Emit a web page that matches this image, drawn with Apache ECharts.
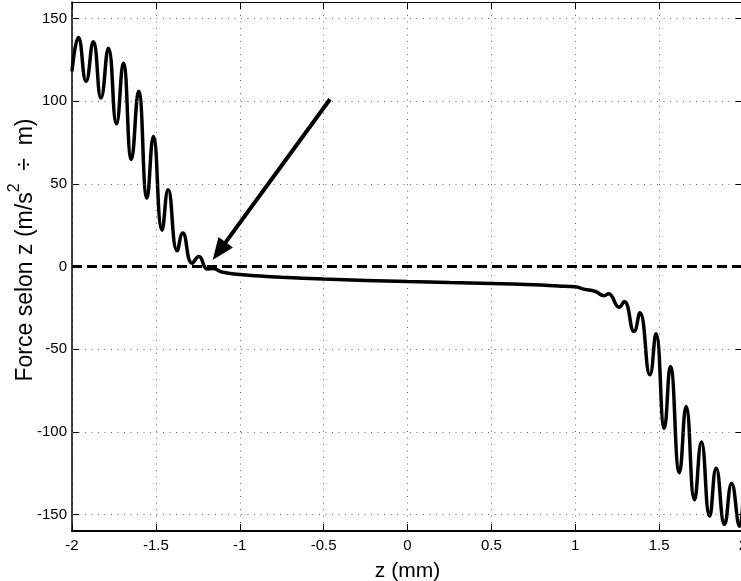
<!DOCTYPE html>
<html>
<head>
<meta charset="utf-8">
<script src="https://cdn.jsdelivr.net/npm/echarts@6/dist/echarts.min.js"></script>
<style>
html,body{margin:0;padding:0;background:#fff;}
#chart{width:741px;height:581px;}
</style>
</head>
<body>
<div id="chart"></div>
<script>
// z position (mm)
const zValues = [-2.000, -1.962, -1.916, -1.873, -1.827, -1.783, -1.735, -1.694, -1.646, -1.603,
  -1.553, -1.515, -1.463, -1.427, -1.373, -1.340, -1.284, -1.244, -1.194, -1.164,
  -1.100, -1.000, -0.900, -0.750, -0.500, -0.250, 0.000, 0.250, 0.500, 0.750,
  0.900, 1.000, 1.050, 1.120, 1.172, 1.198, 1.262, 1.292, 1.351, 1.385,
  1.445, 1.481, 1.531, 1.567, 1.621, 1.661, 1.711, 1.752, 1.801, 1.840,
  1.890, 1.932, 1.980, 2.000];
// force along z (m/s^2 / m)
const forceValues = [118, 138.5, 112, 136, 102, 132, 86.3, 123, 64.8, 106,
  41.4, 78.6, 22, 46.4, 9.5, 20.2, 2, 6, -1.5, -1.2,
  -3.5, -4.8, -5.6, -6.5, -7.6, -8.4, -9.1, -9.7, -10.3, -11.1,
  -11.8, -12.3, -13.7, -15.1, -17.7, -16.5, -24.6, -21.2, -39.3, -28,
  -65.5, -40.7, -97.8, -60.5, -124.7, -84.7, -141.1, -106.2, -151, -122,
  -156, -131.3, -157.2, -140];

const xTickValues = [-2, -1.5, -1, -0.5, 0, 0.5, 1, 1.5, 2];
const yTickValues = [-150, -100, -50, 0, 50, 100, 150];
const zeroLevel = 0;
const arrowStart = [-0.462, 101.2];
const arrowEnd = [-1.1225, 9.3];

const FONT = 'Liberation Sans, Arial, sans-serif';
const chart = echarts.init(document.getElementById('chart'), null, {renderer: 'canvas'});

const gridDot = {color: '#666', width: 1, type: [1, 5.5]};
const markData = yTickValues.filter(v => v !== zeroLevel).map(v => ({yAxis: v, lineStyle: gridDot}));
markData.push({yAxis: zeroLevel, lineStyle: {color: '#000', width: 3, type: [10, 5]}});
markData.push([
  {coord: arrowStart, symbol: 'none'},
  {coord: arrowEnd, symbol: 'triangle', symbolSize: [18, 22], lineStyle: {color: '#000', width: 4, type: 'solid'}}
]);

const axisCommon = {
  type: 'value',
  axisLine: {show: true, onZero: false, lineStyle: {color: '#000', width: 1.5}},
  axisTick: {show: true, inside: true, length: 7, lineStyle: {color: '#000', width: 1}},
};

chart.setOption({
  animation: false,
  backgroundColor: '#fff',
  grid: {left: 72, top: 2, width: 671, height: 529, containLabel: false, outerBoundsMode: 'none'},
  graphic: [{
    type: 'text',
    x: 22, y: 250,
    rotation: Math.PI / 2,
    silent: true,
    style: {
      text: '{a|Force selon z (m/s}{s|2}{a|  ÷  m)}',
      align: 'center', verticalAlign: 'middle',
      fill: '#000', font: '23px ' + FONT,
      rich: {
        a: {fill: '#000', fontFamily: FONT, fontSize: 23, lineHeight: 30, verticalAlign: 'bottom'},
        s: {fill: '#000', fontFamily: FONT, fontSize: 16, lineHeight: 16, verticalAlign: 'top'}
      }
    }
  }],
  xAxis: [
    Object.assign({}, axisCommon, {
      position: 'bottom', min: -2, max: 2, interval: 0.5,
      axisLine: {show: true, onZero: false, lineStyle: {color: '#000', width: 2}},
      axisLabel: {show: true, color: '#000', fontFamily: FONT, fontSize: 15, margin: 7,
        customValues: xTickValues},
      splitLine: {show: true, lineStyle: gridDot},
      name: 'z (mm)', nameLocation: 'middle', nameGap: 30,
      nameTextStyle: {color: '#000', fontFamily: FONT, fontSize: 21}
    }),
    Object.assign({}, axisCommon, {
      position: 'top', min: -2, max: 2, interval: 0.5,
      axisLine: {show: true, onZero: false, lineStyle: {color: '#000', width: 1}},
      axisLabel: {show: false}, splitLine: {show: false}
    })
  ],
  yAxis: [
    Object.assign({}, axisCommon, {
      position: 'left', min: -160, max: 160, interval: 10,
      axisTick: {show: true, inside: true, length: 7, lineStyle: {color: '#000', width: 1}, customValues: yTickValues},
      axisLabel: {show: true, color: '#000', fontFamily: FONT, fontSize: 15, margin: 5, customValues: yTickValues},
      splitLine: {show: false}
    }),
    Object.assign({}, axisCommon, {
      position: 'right', min: -160, max: 160, interval: 10,
      axisTick: {show: true, inside: true, length: 7, lineStyle: {color: '#000', width: 1}, customValues: yTickValues},
      axisLabel: {show: false}, splitLine: {show: false}
    })
  ],
  series: [{
    type: 'line',
    xAxisIndex: 0, yAxisIndex: 0,
    data: zValues.map((z, i) => [z, forceValues[i]]),
    smooth: 0.5,
    showSymbol: false,
    lineStyle: {color: '#000', width: 3.5},
    markLine: {
      silent: true,
      symbol: ['none', 'none'],
      label: {show: false},
      animation: false,
      data: markData
    }
  }]
});
</script>
</body>
</html>
